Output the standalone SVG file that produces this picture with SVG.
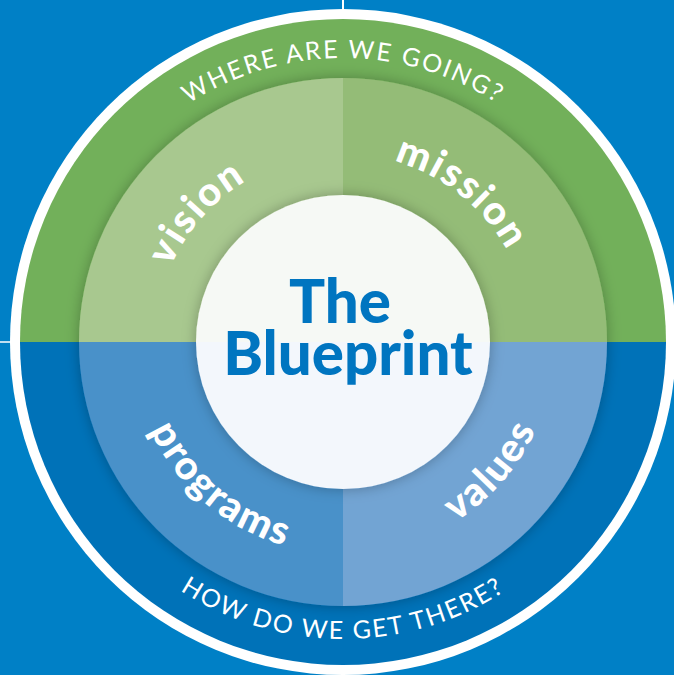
<svg xmlns="http://www.w3.org/2000/svg" xmlns:xlink="http://www.w3.org/1999/xlink" width="674" height="675" viewBox="0 0 674 675">
  <style>
    .outer { font-family: "Lato", "Liberation Sans", sans-serif; font-size: 25px; fill: #ffffff; letter-spacing: 2px; }
    .seg { font-family: "Lato", "Liberation Sans", sans-serif; font-weight: 900; font-size: 40px; fill: #ffffff; letter-spacing: 2px; }
    .title { font-family: "Lato", "Liberation Sans", sans-serif; font-weight: 900; font-size: 60px; fill: #0075c0; text-anchor: middle; }
  </style>
  <defs>
    <filter id="shadow" x="-20%" y="-20%" width="140%" height="140%">
      <feDropShadow dx="0" dy="0" stdDeviation="7" flood-color="#000000" flood-opacity="0.28"/>
    </filter>
    <path id="pTop" d="M59,342 A284,284 0 0 1 627,342"/>
    <path id="pBottom" d="M46,342 A297,297 0 0 0 640,342"/>
    <path id="pVision" d="M155.35,353.48 A188,188 0 0 1 331.52,154.35"/>
    <path id="pMission" d="M321.72,155.21 A188,188 0 0 1 529.79,320.72"/>
    <path id="pPrograms" d="M131.65,358.63 A212,212 0 0 0 359.63,553.35"/>
    <path id="pValues" d="M357.79,553.48 A212,212 0 0 0 554.48,327.21"/>
    <clipPath id="topHalf"><rect x="0" y="0" width="674" height="342"/></clipPath>
    <clipPath id="bottomHalf"><rect x="0" y="342" width="674" height="333"/></clipPath>
  </defs>

  <rect x="0" y="0" width="674" height="675" fill="#0080c6"/>

  <g id="frame">
    <line x1="343" y1="0" x2="343" y2="10" stroke="#ffffff" stroke-width="2"/>
    <line x1="0" y1="342" x2="12" y2="342" stroke="#ffffff" stroke-width="1.5"/>
    <circle cx="343" cy="342" r="333" fill="#ffffff"/>
  </g>

  <g id="outer-band">
    <path d="M20,342 A323,323 0 0 1 666,342 Z" fill="#72b05a"/>
    <path d="M20,342 A323,323 0 0 0 666,342 Z" fill="#0072b8"/>
  </g>

  <g id="quadrants" filter="url(#shadow)">
    <path id="q-vision" d="M343,342 L79,342 A264,264 0 0 1 343,78 Z" fill="#a8c88f"/>
    <path id="q-mission" d="M343,342 L343,78 A264,264 0 0 1 607,342 Z" fill="#94bc77"/>
    <path id="q-programs" d="M343,342 L79,342 A264,264 0 0 0 343,606 Z" fill="#4a91c9"/>
    <path id="q-values" d="M343,342 L343,606 A264,264 0 0 0 607,342 Z" fill="#72a4d3"/>
  </g>

  <g id="center" filter="url(#shadow)">
    <circle cx="343" cy="342" r="147" fill="#f6f9f5" clip-path="url(#topHalf)"/>
    <circle cx="343" cy="342" r="147" fill="#f3f7fc" clip-path="url(#bottomHalf)"/>
  </g>
  <g id="title">
    <text class="title"><tspan x="340" y="323">The</tspan><tspan x="348" y="375">Blueprint</tspan></text>
  </g>

  <g id="labels">
    <text class="outer"><textPath xlink:href="#pTop" href="#pTop" startOffset="50%" text-anchor="middle">WHERE ARE WE GOING?</textPath></text>
    <text class="outer"><textPath xlink:href="#pBottom" href="#pBottom" startOffset="50%" text-anchor="middle">HOW DO WE GET THERE?</textPath></text>
    <text class="seg"><textPath xlink:href="#pVision" href="#pVision" startOffset="50%" text-anchor="middle">vision</textPath></text>
    <text class="seg"><textPath xlink:href="#pMission" href="#pMission" startOffset="50%" text-anchor="middle">mission</textPath></text>
    <text class="seg"><textPath xlink:href="#pPrograms" href="#pPrograms" startOffset="50%" text-anchor="middle">programs</textPath></text>
    <text class="seg"><textPath xlink:href="#pValues" href="#pValues" startOffset="50%" text-anchor="middle">values</textPath></text>
  </g>
</svg>
